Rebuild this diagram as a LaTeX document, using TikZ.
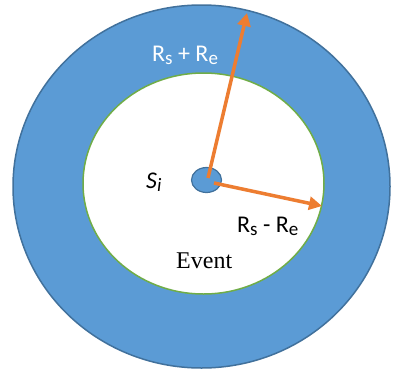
\documentclass[tikz,border=0pt]{standalone}
\usepackage{fontspec}
\setmainfont{Carlito}
\newfontfamily\timesf{Liberation Serif}
\usetikzlibrary{arrows.meta,shapes.geometric}
\definecolor{ringblue}{HTML}{5B9BD5}
\definecolor{ringedge}{HTML}{41719C}
\definecolor{ringgreen}{HTML}{70AD47}
\definecolor{arroworange}{HTML}{ED7D31}
\newcommand{\lowsub}[1]{\raisebox{-3pt}{\fontsize{19}{20}\selectfont #1}}
\tikzset{
  ringshape/.style={ellipse, inner sep=0pt, outer sep=0pt},
  radius arrow/.style={draw=arroworange, line width=3.5pt, -{Triangle[length=13pt,width=13pt]}},
  lbl/.style={inner sep=0pt, anchor=base west, font=\fontsize{24}{26}\selectfont}
}
\begin{document}
\begin{tikzpicture}[x=1pt,y=-1pt]
\useasboundingbox (0,0) rectangle (393,372);
\fill[white] (0,0) rectangle (393,372);
\node[ringshape, fill=ringblue, draw=ringedge, line width=1.5pt, minimum width=377pt, minimum height=363pt] (outer) at (201.5,186.5) {};
\node[ringshape, fill=white, draw=ringgreen, line width=1.5pt, minimum width=241pt, minimum height=221pt] (inner) at (203.5,183.5) {};
\node[ringshape, fill=ringblue, draw=ringedge, line width=1.2pt, minimum width=30pt, minimum height=25pt] (si) at (206.5,180) {};
\coordinate (tipA) at (247,13);
\coordinate (tipB) at (322,206);
\draw[radius arrow] (208,178) -- (tipA);
\draw[radius arrow] (214,183) -- (tipB);
\node[lbl, text=white] (lab1) at (152,61) {R\lowsub{s} + R\lowsub{e}};
\node[lbl, text=black] (lab2) at (237,232) {R\lowsub{s} - R\lowsub{e}};
\node[lbl, text=black] (lab3) at (146,188) {\itshape S\lowsub{i}};
\node[inner sep=0pt, anchor=base west, font=\timesf\fontsize{24}{26}\selectfont] (ev) at (176,268) {Event};
\end{tikzpicture}
\end{document}
